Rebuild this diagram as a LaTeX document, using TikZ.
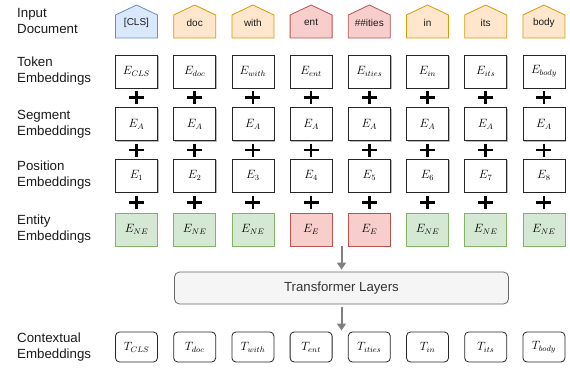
\documentclass[tikz,border=0pt]{standalone}
\usepackage{fontspec}
\setmainfont{Liberation Sans}
\usetikzlibrary{arrows.meta,shadows}
\definecolor{blueF}{HTML}{DAE8FC}\definecolor{blueD}{HTML}{6C8EBF}
\definecolor{oranF}{HTML}{FFE6CC}\definecolor{oranD}{HTML}{D79B00}
\definecolor{redF}{HTML}{F8CECC}\definecolor{redD}{HTML}{B85450}
\definecolor{greenF}{HTML}{D5E8D4}\definecolor{greenD}{HTML}{82B366}
\definecolor{trF}{HTML}{F5F5F5}\definecolor{trD}{HTML}{666666}
\definecolor{arrC}{HTML}{808080}
\definecolor{txt}{HTML}{1A1A1A}
\begin{document}
\begin{tikzpicture}[x=1pt,y=-1pt,
  lbl/.style={anchor=west,align=left,inner sep=0pt,text=txt,font=\fontsize{13.3}{16}\selectfont},
  tokt/.style={inner sep=0pt,text=txt,font=\fontsize{10}{12}\selectfont},
  ebox/.style={draw=black!85,line width=0.8pt,fill=white,minimum width=42pt,minimum height=33pt,inner sep=0pt,
    font=\fontsize{12}{14}\selectfont,
    drop shadow={shadow xshift=1.2pt,shadow yshift=-1.2pt,fill=black!45,opacity=0.6}},
  entbox/.style={draw=#1D,fill=#1F,line width=0.8pt,minimum width=42pt,minimum height=33pt,inner sep=0pt,
    font=\fontsize{12}{14}\selectfont},
  cbox/.style={draw=black!85,line width=0.8pt,fill=white,rounded corners=4pt,minimum width=42pt,minimum height=30pt,inner sep=0pt,
    font=\fontsize{12}{14}\selectfont},
  plus/.style={line width=2.6pt,black},
  arr/.style={draw=arrC,line width=2pt,-{Triangle[length=7pt,width=9pt]}}
]
\useasboundingbox (0,0) rectangle (570,367);

% row labels
\node[lbl] (lIn)  at (17,21)    {Input\\Document};
\node[lbl] (lTok) at (17,71)    {Token\\Embeddings};
\node[lbl] (lSeg) at (17,124)   {Segment\\Embeddings};
\node[lbl] (lPos) at (17,175.5) {Position\\Embeddings};
\node[lbl] (lEnt) at (17,229.5) {Entity\\Embeddings};
\node[lbl] (lCtx) at (17,347.5) {Contextual\\Embeddings};

\foreach \i/\tok/\sub/\col/\ent/\esub in {
  1/{[CLS]}/CLS/blue/green/NE,
  2/{doc}/doc/oran/green/NE,
  3/{with}/with/oran/green/NE,
  4/{ent}/ent/red/red/E,
  5/{\#\#ities}/ities/red/red/E,
  6/{in}/in/oran/green/NE,
  7/{its}/its/oran/green/NE,
  8/{body}/body/oran/green/NE}{
  \pgfmathsetmacro{\xc}{136.5+58.2*(\i-1)}
  % input token pentagon
  \draw[draw=\col D,fill=\col F,line width=0.8pt]
    (\xc-21,38) -- (\xc-21,15) -- (\xc,5) -- (\xc+21,15) -- (\xc+21,38) -- cycle;
  \node[tokt] (in\i) at (\xc,22.5) {\tok};
  % embeddings
  \node[ebox] (tok\i) at (\xc,71.5)  {$E_{\sub}$};
  \node[ebox] (seg\i) at (\xc,124)   {$E_{A}$};
  \node[ebox] (pos\i) at (\xc,175.5) {$E_{\i}$};
  \node[entbox=\ent] (ent\i) at (\xc,229.5) {$E_{\esub}$};
  \node[cbox] (ctx\i) at (\xc,347) {$T_{\sub}$};
  % plus signs
  \foreach \py in {97.5,150,202.5}{
    \draw[plus] (\xc-7.5,\py) -- (\xc+7.5,\py) (\xc,\py-6.5) -- (\xc,\py+6.5);
  }
}

\node[draw=trD,fill=trF,line width=0.8pt,rounded corners=5pt,minimum width=334pt,minimum height=32pt,
  text=black!80,font=\fontsize{13.2}{15}\selectfont] (tr) at (341.5,288) {Transformer Layers};

\coordinate (a1) at (341.5,246);
\coordinate (a2) at (341.5,330.5);
\draw[arr,shorten >=2pt] (a1) -- (tr.north);
\draw[arr,shorten <=3pt] (tr.south) -- (a2);
\end{tikzpicture}
\end{document}
